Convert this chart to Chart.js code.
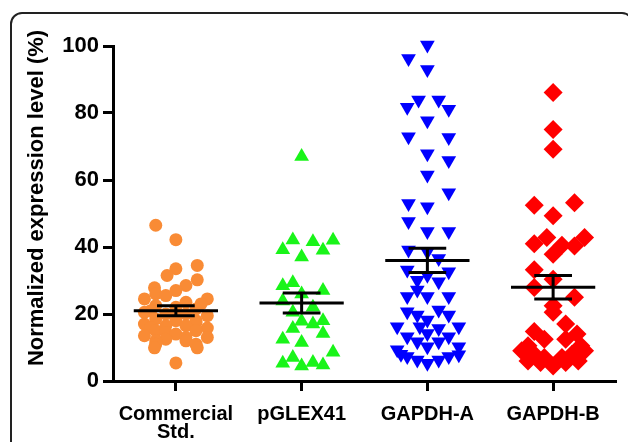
<!DOCTYPE html>
<html>
<head>
<meta charset="utf-8">
<script src="https://cdn.jsdelivr.net/npm/chart.js@4"></script>
<style>
  html, body { margin: 0; padding: 0; background: #fff; }
  #wrap { position: relative; width: 628px; height: 442px; overflow: hidden; }
  #frame {
    position: absolute; left: 10px; top: 12px; width: 620px; height: 470px;
    border: 2px solid #222; border-radius: 12px; pointer-events: none;
  }
</style>
</head>
<body>
<div id="wrap">
  <canvas id="dotChart" width="628" height="442"></canvas>
  <div id="frame"></div>
</div>
<script>
// groups on the x axis
const categories = [["Commercial", "Std."], "pGLEX41", "GAPDH-A", "GAPDH-B"];
const yTicks = [0, 20, 40, 60, 80, 100];

// normalized expression level (%) per sample
const commercialValues = [46.5, 42.2, 34.5, 33.5, 31.5, 30.2, 28.5, 27.8, 27, 26, 25.5, 24.5, 24.5, 23.5, 23, 22.5, 22, 21.5, 21, 20.5, 20, 20, 19.5, 19, 18.5, 18, 18, 17.5, 17, 16.5, 16.5, 16, 15.8, 15, 15, 14.5, 14, 13.5, 13, 13, 12.5, 12, 12, 11, 11, 9.9, 9.9, 5.4];
const pglexValues = [67, 42.1, 42, 41.6, 39.2, 39, 37, 29.3, 28.4, 27, 26, 23.9, 22, 20.5, 18, 17.8, 17, 15.7, 14.2, 12.5, 11.5, 8.6, 7, 5.3, 5.5, 4.5, 4.8];
const gapdhAValues = [100.3, 96.3, 93, 83.9, 83.9, 81.7, 81.1, 77.7, 72.9, 72.7, 67.8, 65.8, 61.5, 56.2, 53, 52, 47.6, 44.6, 44.6, 39.1, 38.6, 36.6, 33.1, 32.6, 31.6, 30.1, 29.6, 27.2, 25.2, 25.2, 25.2, 21.2, 20.7, 19.7, 19.7, 18.2, 16.2, 16.2, 16.2, 15.7, 14.2, 13.2, 13.2, 11.7, 11.7, 10.2, 10.2, 9.3, 8, 7.8, 7.3, 7.3, 6.3, 6.3, 5.3];
const gapdhBValues = [86.1, 75.1, 69.2, 53.2, 52.5, 49.3, 42.8, 42.8, 41, 40.5, 40.3, 37.8, 33.2, 30.4, 27.9, 25, 22.5, 20.5, 17, 14.8, 14, 12.5, 12.5, 10.5, 10.5, 9, 9, 8, 8, 7, 7, 6, 6, 5.5, 5.5, 4.5];

// horizontal scatter of each dot (fraction of a category)
const commercialJitter = [-0.16, 0, 0.17, 0, -0.07, 0.17, 0.08, -0.17, 0, -0.16, -0.08, -0.25, 0.25, 0.08, 0.2, -0.16, 0, 0.16, -0.2, -0.25, -0.08, 0.08, 0.25, 0, -0.16, 0, 0.16, 0.16, -0.25, -0.08, 0.08, -0.2, 0.25, -0.16, 0.16, -0.08, 0, -0.25, 0.08, 0.25, -0.08, -0.16, 0.08, -0.16, 0.16, -0.17, 0.17, 0];
const pglexJitter = [0, -0.07, 0.25, 0.09, -0.15, 0.17, 0, -0.07, -0.15, 0.17, 0, -0.15, 0.09, -0.07, 0.17, 0, 0.09, -0.07, 0.17, -0.15, 0, 0.25, -0.07, -0.15, 0.09, 0, 0.17];
const gapdhAJitter = [0, -0.15, 0, -0.07, 0.09, -0.16, 0.17, 0, -0.15, 0.17, 0, 0.17, 0, 0.17, -0.15, 0, -0.15, 0, 0.17, -0.15, 0, 0.09, -0.16, 0.17, 0, -0.08, 0.09, -0.08, -0.16, 0, 0.17, 0.09, -0.16, 0.17, -0.08, 0, -0.24, 0.25, -0.06, 0.09, 0, -0.16, 0.17, -0.08, 0.09, 0.25, 0, -0.24, -0.21, 0.25, -0.16, 0.17, -0.08, 0.09, 0];
const gapdhBJitter = [0, 0, 0, 0.17, -0.15, 0, -0.05, 0.25, -0.15, 0.07, 0.17, 0, -0.15, 0, -0.15, 0.17, 0, 0, 0.1, -0.15, 0.19, -0.07, 0.1, -0.2, 0.22, -0.25, 0.25, -0.15, 0.15, -0.07, 0.07, -0.2, 0.2, -0.1, 0.1, 0];

// mean and SEM drawn over each group
const means = [21, 23.3, 36, 28];
const sems = [1.5, 3, 3.6, 3.5];

const groups = [
  { values: commercialValues, jitter: commercialJitter, color: "#F98B35", style: "circle", radius: 6.5, rot: 0 },
  { values: pglexValues, jitter: pglexJitter, color: "#19F419", style: "triangle", radius: 8.5, rot: 0 },
  { values: gapdhAValues, jitter: gapdhAJitter, color: "#0000FF", style: "triangle", radius: 8.5, rot: 180 },
  { values: gapdhBValues, jitter: gapdhBJitter, color: "#FF0000", style: "rectRot", radius: 9.5, rot: 0 }
];

const datasets = [];

groups.forEach((g, i) => {
  datasets.push({
    data: g.values.map((v, k) => ({ x: i + 1 + g.jitter[k], y: v })),
    pointStyle: g.style,
    pointRotation: g.rot,
    pointRadius: g.radius,
    pointBackgroundColor: g.color,
    pointBorderWidth: 0,
    showLine: false,
    clip: false,
    order: 1
  });
});

// mean line + SEM whiskers, one line dataset per group with gaps
means.forEach((m, i) => {
  const c = i + 1, s = sems[i];
  const gap = { x: c, y: null };
  datasets.push({
    data: [
      { x: c - 0.335, y: m }, { x: c + 0.335, y: m }, gap,
      { x: c - 0.15, y: m + s }, { x: c + 0.15, y: m + s }, gap,
      { x: c - 0.15, y: m - s }, { x: c + 0.15, y: m - s }, gap,
      { x: c, y: m - s }, { x: c, y: m + s }
    ],
    showLine: true,
    spanGaps: false,
    borderColor: "#000",
    borderWidth: 3,
    pointRadius: 0,
    order: 0
  });
});

const yTitle = {
  id: "yTitle",
  afterDraw(chart) {
    const ctx = chart.ctx;
    ctx.save();
    ctx.translate(37, 198);
    ctx.rotate(-Math.PI / 2);
    ctx.font = "bold 22px 'Liberation Sans', Arial, sans-serif";
    ctx.fillStyle = "#000";
    ctx.textAlign = "center";
    ctx.textBaseline = "middle";
    ctx.fillText("Normalized expression level (%)", 0, 0);
    ctx.restore();
  }
};

const ctx = document.getElementById("dotChart").getContext("2d");
new Chart(ctx, {
  type: "scatter",
  data: { datasets: datasets },
  plugins: [yTitle],
  options: {
    responsive: false,
    animation: false,
    layout: { padding: { top: 46, right: 12, bottom: 0, left: 0 } },
    plugins: { legend: { display: false }, tooltip: { enabled: false } },
    scales: {
      x: {
        type: "linear",
        min: 0.5,
        max: 4.5,
        afterBuildTicks: s => { s.ticks = categories.map((c, i) => ({ value: i + 1 })); },
        afterFit: s => { s.height = 61; },
        grid: { drawOnChartArea: false, tickLength: 10, tickWidth: 3, tickColor: "#000" },
        border: { color: "#000", width: 3 },
        ticks: {
          padding: 15,
          color: "#000",
          maxRotation: 0,
          autoSkip: false,
          font: { family: "'Liberation Sans', Arial, sans-serif", size: 20, weight: "bold", lineHeight: 0.88 },
          callback: v => categories[Math.round(v) - 1]
        }
      },
      y: {
        min: 0,
        max: 100,
        afterBuildTicks: s => { s.ticks = yTicks.map(v => ({ value: v })); },
        afterFit: s => { s.width = 113; },
        grid: { drawOnChartArea: false, tickLength: 10, tickWidth: 3, tickColor: "#000" },
        border: { color: "#000", width: 3 },
        ticks: {
          padding: 4,
          color: "#000",
          font: { family: "'Liberation Sans', Arial, sans-serif", size: 22, weight: "bold" }
        }
      }
    }
  }
});
</script>
</body>
</html>
